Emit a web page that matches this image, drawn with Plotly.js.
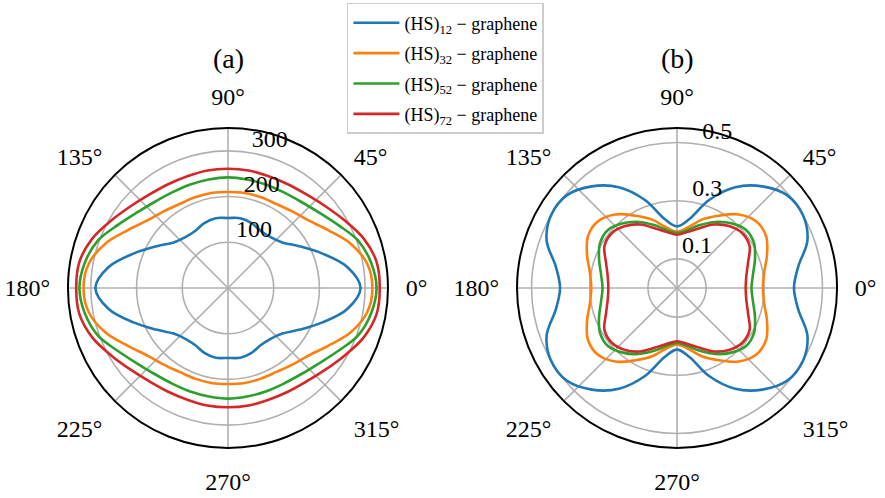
<!DOCTYPE html>
<html>
<head>
<meta charset="utf-8">
<script src="https://cdn.plot.ly/plotly-3.0.1.min.js"></script>
<style>html,body{margin:0;padding:0;background:#fff;}#chart{width:885px;height:498px;}</style>
</head>
<body>
<div id="chart"></div>
<script>
// angles (degrees)
var theta = [0,10,20,30,40,50,60,70,80,90,100,110,120,130,140,150,160,170,180,190,200,210,220,230,240,250,260,270,280,290,300,310,320,330,340,350,360];

var seriesNames = ['(HS)<sub>12</sub> − graphene','(HS)<sub>32</sub> − graphene','(HS)<sub>52</sub> − graphene','(HS)<sub>72</sub> − graphene'];

// panel (a)
var a_HS12 = [290,265,220,182,155,145,144,151,155,153,155,151,144,145,155,182,220,265,290,265,220,182,155,145,144,151,155,153,155,151,144,145,155,182,220,265,290];
var a_HS32 = [316,309,285,253,230,219,212,211,211,210,211,211,212,219,230,253,285,309,316,309,285,253,230,219,212,211,211,210,211,211,212,219,230,253,285,309,316];
var a_HS52 = [325,318,303,277,258,247,242,241,241,242,241,241,242,247,258,277,303,318,325,318,303,277,258,247,242,241,241,242,241,241,242,247,258,277,303,318,325];
var a_HS72 = [332,330,316,295,278,267,262,260,261,261,261,260,262,267,278,295,316,330,332,330,316,295,278,267,262,260,261,261,261,260,262,267,278,295,316,330,332];

// panel (b)
var b_HS12 = [0.402,0.423,0.477,0.500,0.495,0.456,0.400,0.322,0.240,0.212,0.240,0.322,0.400,0.456,0.495,0.500,0.477,0.423,0.402,0.423,0.477,0.500,0.495,0.456,0.400,0.322,0.240,0.212,0.240,0.322,0.400,0.456,0.495,0.500,0.477,0.423,0.402];
var b_HS32 = [0.295,0.304,0.329,0.354,0.356,0.330,0.287,0.250,0.211,0.194,0.211,0.250,0.287,0.330,0.356,0.354,0.329,0.304,0.295,0.304,0.329,0.354,0.356,0.330,0.287,0.250,0.211,0.194,0.211,0.250,0.287,0.330,0.356,0.354,0.329,0.304,0.295];
var b_HS52 = [0.256,0.265,0.285,0.306,0.310,0.290,0.262,0.230,0.202,0.189,0.202,0.230,0.262,0.290,0.310,0.306,0.285,0.265,0.256,0.265,0.285,0.306,0.310,0.290,0.262,0.230,0.202,0.189,0.202,0.230,0.262,0.290,0.310,0.306,0.285,0.265,0.256];
var b_HS72 = [0.236,0.242,0.260,0.288,0.293,0.278,0.252,0.218,0.195,0.183,0.195,0.218,0.252,0.278,0.293,0.288,0.260,0.242,0.236,0.242,0.260,0.288,0.293,0.278,0.252,0.218,0.195,0.183,0.195,0.218,0.252,0.278,0.293,0.288,0.260,0.242,0.236];

// radial ticks
var a_ticks = [100,200,300];
var a_ticktext = ['100','200','300'];
var b_ticks = [0.1,0.3,0.5];
var b_ticktext = ['0.1','0.3','0.5'];
var a_range = [0,350];
var b_range = [0,0.55];
var rlabelAngle = 80;
// angular ticks
var angTicks = [0,45,90,135,180,225,270,315];
var angText = ['0°','45°','90°','135°','180°','225°','270°','315°'];

var colors = ['#1f77b4','#ff7f0e','#2ca02c','#d62728'];
var aSeries = [a_HS12,a_HS32,a_HS52,a_HS72];
var bSeries = [b_HS12,b_HS32,b_HS52,b_HS72];

var FONT = '"Liberation Serif", serif';
var traces = [];
aSeries.forEach(function(r,i){
  traces.push({type:'scatterpolar',mode:'lines',r:r,theta:theta,subplot:'polar',
    name:seriesNames[i],legendgroup:'g'+i,line:{color:colors[i],width:2.6,shape:'spline'},showlegend:true});
});
bSeries.forEach(function(r,i){
  traces.push({type:'scatterpolar',mode:'lines',r:r,theta:theta,subplot:'polar2',
    name:seriesNames[i],legendgroup:'g'+i,line:{color:colors[i],width:2.6,shape:'spline'},showlegend:false});
});
// radial tick labels (matplotlib-style placement)
[['polar',a_ticks,a_ticktext],['polar2',b_ticks,b_ticktext]].forEach(function(s){
  traces.push({type:'scatterpolar',mode:'text',subplot:s[0],r:s[1],
    theta:s[1].map(function(){return rlabelAngle;}),text:s[2],
    textposition:'top right',textfont:{family:FONT,size:24,color:'#000'},
    cliponaxis:false,showlegend:false,hoverinfo:'skip'});
});

function polarCfg(dom, ticks, range){
  return {
    domain:dom,
    bgcolor:'rgba(0,0,0,0)',
    angularaxis:{
      rotation:0, direction:'counterclockwise',
      tickmode:'array', tickvals:angTicks, ticktext:angText,
      showline:true, linecolor:'#000', linewidth:2,
      showgrid:true, gridcolor:'#b0b0b0', gridwidth:1.6,
      ticks:'outside', ticklen:12, tickcolor:'rgba(0,0,0,0)',
      tickfont:{family:FONT,size:24,color:'#000'}
    },
    radialaxis:{
      range:range, tickmode:'array', tickvals:ticks, showticklabels:false,
      showline:false, ticks:'', angle:rlabelAngle,
      showgrid:true, gridcolor:'#b0b0b0', gridwidth:1.6
    }
  };
}

var layout = {
  width:885, height:498,
  margin:{l:0,r:0,t:0,b:0},
  paper_bgcolor:'#fff',
  font:{family:FONT,color:'#000'},
  polar:polarCfg({x:[0.0768,0.4384],y:[0.1004,0.743]}, a_ticks, a_range),
  polar2:polarCfg({x:[0.5842,0.9458],y:[0.1004,0.743]}, b_ticks, b_range),
  showlegend:true,
  legend:{x:0.392,y:0.994,xanchor:'left',yanchor:'top',bgcolor:'#fff',
    bordercolor:'#cccccc',borderwidth:1.5,font:{family:FONT,size:18,color:'#000'},
    tracegroupgap:4, itemwidth:46},
  annotations:[
    {text:'(a)',xref:'paper',yref:'paper',x:228/885,y:1-58/498,xanchor:'center',yanchor:'middle',showarrow:false,font:{family:FONT,size:28}},
    {text:'(b)',xref:'paper',yref:'paper',x:677/885,y:1-58/498,xanchor:'center',yanchor:'middle',showarrow:false,font:{family:FONT,size:28}}
  ]
};

Plotly.newPlot('chart', traces, layout, {displayModeBar:false,staticPlot:true});
</script>
</body>
</html>
